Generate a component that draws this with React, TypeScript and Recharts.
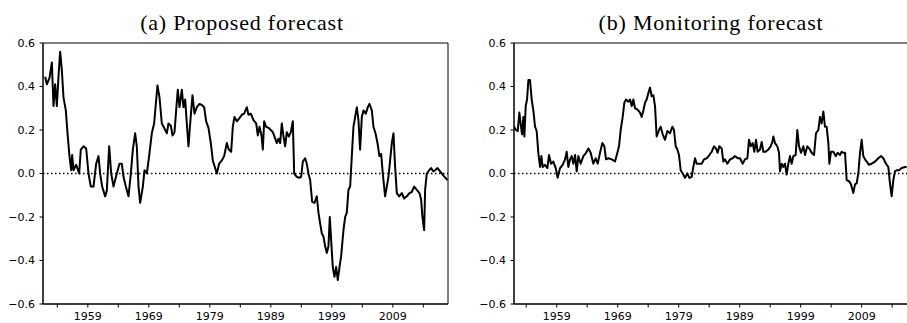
import React from 'react';
import {
  LineChart,
  Line,
  XAxis,
  YAxis,
  ReferenceLine,
  ReferenceArea
} from 'recharts';

// (a) proposed forecast
const yearsA = [
  1952.0, 1952.28, 1952.72, 1953.1, 1953.37, 1953.64, 1953.92, 1954.19, 1954.46, 1954.74,
  1955.01, 1955.39, 1955.67, 1955.99, 1956.27, 1956.43, 1956.65, 1957.09, 1957.58, 1957.85,
  1958.29, 1958.73, 1959.11, 1959.49, 1959.93, 1960.37, 1960.75, 1961.02, 1961.35, 1961.84,
  1962.11, 1962.5, 1962.83, 1963.21, 1963.75, 1964.19, 1964.57, 1964.85, 1965.23, 1965.67,
  1966.05, 1966.38, 1966.76, 1967.03, 1967.31, 1967.58, 1968.02, 1968.29, 1968.67, 1969.05,
  1969.49, 1969.87, 1970.15, 1970.42, 1970.75, 1971.13, 1971.51, 1971.95, 1972.22, 1972.61,
  1972.88, 1973.21, 1973.48, 1973.75, 1974.03, 1974.41, 1974.68, 1974.96, 1975.23, 1975.5,
  1975.78, 1976.16, 1976.49, 1976.87, 1977.31, 1977.69, 1978.07, 1978.4, 1978.78, 1979.16,
  1979.49, 1979.87, 1980.15, 1980.53, 1980.97, 1981.35, 1981.79, 1982.11, 1982.5, 1982.77,
  1983.04, 1983.43, 1983.86, 1984.25, 1984.63, 1985.07, 1985.34, 1985.72, 1986.16, 1986.6,
  1986.87, 1987.14, 1987.47, 1987.69, 1987.91, 1988.23, 1988.62, 1989.0, 1989.33, 1989.6,
  1989.98, 1990.26, 1990.53, 1990.8, 1991.08, 1991.35, 1991.62, 1991.95, 1992.28, 1992.61,
  1992.83, 1993.26, 1993.7, 1993.97, 1994.25, 1994.63, 1994.9, 1995.17, 1995.45, 1995.78,
  1996.16, 1996.54, 1996.81, 1997.09, 1997.36, 1997.63, 1997.91, 1998.18, 1998.45, 1998.67,
  1998.89, 1999.16, 1999.44, 1999.71, 1999.98, 2000.26, 2000.53, 2000.91, 2001.19, 2001.46,
  2001.73, 2002.01, 2002.28, 2002.55, 2002.83, 2003.1, 2003.37, 2003.64, 2003.92, 2004.19,
  2004.57, 2004.9, 2005.17, 2005.56, 2005.83, 2006.16, 2006.49, 2006.81, 2007.09, 2007.36,
  2007.74, 2008.02, 2008.29, 2008.56, 2008.84, 2009.11, 2009.38, 2009.66, 2010.04, 2010.48,
  2010.86, 2011.3, 2011.73, 2012.11, 2012.5, 2012.93, 2013.37, 2013.64, 2013.86, 2014.14,
  2014.3, 2014.57, 2014.96, 2015.28, 2015.67, 2015.94, 2016.32, 2016.76, 2017.31, 2017.96
];
const proposed = [
  0.445, 0.41, 0.44, 0.51, 0.31, 0.41, 0.31, 0.445, 0.56, 0.475,
  0.35, 0.29, 0.185, 0.08, 0.015, 0.085, 0.015, 0.04, 0.0, 0.11,
  0.125, 0.115, 0.0, -0.06, -0.06, 0.045, 0.08, 0.0, -0.06, -0.105,
  -0.08, 0.125, 0.0, -0.06, 0.0, 0.045, 0.045, -0.015, -0.06, -0.105,
  0.0, 0.11, 0.185, 0.125, -0.06, -0.135, -0.06, 0.015, 0.0, 0.08,
  0.185, 0.23, 0.32, 0.405, 0.35, 0.23, 0.21, 0.185, 0.23, 0.22,
  0.175, 0.19, 0.29, 0.385, 0.305, 0.385, 0.305, 0.34, 0.23, 0.125,
  0.23, 0.36, 0.275, 0.305, 0.32, 0.315, 0.305, 0.24, 0.21, 0.14,
  0.06, 0.025, 0.0, 0.045, 0.06, 0.08, 0.14, 0.11, 0.1, 0.215,
  0.26, 0.24, 0.255, 0.27, 0.275, 0.305, 0.27, 0.275, 0.245, 0.23,
  0.175, 0.215, 0.175, 0.11, 0.24, 0.215, 0.21, 0.2, 0.19, 0.17,
  0.14, 0.16, 0.14, 0.23, 0.17, 0.125, 0.19, 0.17, 0.19, 0.24,
  0.0, -0.015, -0.02, -0.015, 0.055, 0.07, 0.045, 0.0, -0.03, -0.13,
  -0.135, -0.105, -0.18, -0.23, -0.275, -0.29, -0.335, -0.365, -0.335, -0.2,
  -0.305, -0.43, -0.475, -0.43, -0.49, -0.43, -0.38, -0.26, -0.2, -0.18,
  -0.075, -0.06, 0.08, 0.215, 0.26, 0.305, 0.245, 0.11, 0.26, 0.29,
  0.275, 0.305, 0.32, 0.29, 0.215, 0.185, 0.14, 0.08, 0.09, 0.0,
  -0.105, -0.06, -0.015, 0.06, 0.14, 0.185, 0.03, -0.09, -0.105, -0.09,
  -0.115, -0.105, -0.09, -0.085, -0.06, -0.075, -0.09, -0.12, -0.2, -0.26,
  -0.075, 0.0, 0.015, 0.025, 0.01, 0.015, 0.025, 0.01, -0.01, -0.03
];

// (b) monitoring forecast
const yearsB = [
  1952.0, 1952.33, 1952.61, 1952.88, 1953.15, 1953.32, 1953.54, 1953.7, 1953.92, 1954.14,
  1954.36, 1954.63, 1954.9, 1955.17, 1955.45, 1955.72, 1955.99, 1956.27, 1956.49, 1956.7,
  1957.09, 1957.47, 1957.74, 1958.07, 1958.45, 1958.84, 1959.16, 1959.55, 1959.98, 1960.37,
  1960.64, 1960.91, 1961.19, 1961.46, 1961.73, 1962.01, 1962.28, 1962.55, 1962.93, 1963.37,
  1963.81, 1964.19, 1964.57, 1965.01, 1965.39, 1965.72, 1966.1, 1966.49, 1966.81, 1967.09,
  1967.47, 1968.02, 1968.56, 1968.95, 1969.22, 1969.49, 1969.82, 1970.09, 1970.37, 1970.75,
  1971.02, 1971.3, 1971.57, 1971.84, 1972.22, 1972.66, 1972.93, 1973.21, 1973.48, 1973.75,
  1974.03, 1974.3, 1974.57, 1974.85, 1975.12, 1975.39, 1975.78, 1976.05, 1976.38, 1976.76,
  1977.14, 1977.58, 1977.96, 1978.23, 1978.51, 1978.78, 1979.05, 1979.33, 1979.66, 1980.04,
  1980.42, 1980.75, 1981.13, 1981.4, 1981.68, 1981.95, 1982.39, 1982.77, 1983.15, 1983.59,
  1984.03, 1984.41, 1984.79, 1985.12, 1985.39, 1985.67, 1986.05, 1986.32, 1986.6, 1986.98,
  1987.42, 1987.85, 1988.23, 1988.67, 1989.05, 1989.49, 1989.87, 1990.26, 1990.53, 1990.8,
  1991.13, 1991.4, 1991.68, 1991.95, 1992.33, 1992.61, 1992.88, 1993.26, 1993.7, 1994.08,
  1994.36, 1994.52, 1994.79, 1995.17, 1995.45, 1995.61, 1995.89, 1996.16, 1996.43, 1996.7,
  1996.98, 1997.25, 1997.52, 1997.8, 1998.18, 1998.45, 1998.73, 1999.05, 1999.44, 1999.71,
  2000.09, 2000.42, 2000.8, 2001.19, 2001.51, 2001.9, 2002.17, 2002.44, 2002.72, 2002.99,
  2003.26, 2003.54, 2003.7, 2003.97, 2004.36, 2004.74, 2005.07, 2005.45, 2005.72, 2005.99,
  2006.27, 2006.54, 2006.92, 2007.25, 2007.63, 2007.91, 2008.18, 2008.45, 2008.73, 2009.0,
  2009.27, 2009.55, 2009.82, 2010.2, 2010.64, 2011.19, 2011.73, 2012.17, 2012.55, 2012.99,
  2013.37, 2013.64, 2013.92, 2014.19, 2014.46, 2014.74, 2015.12, 2015.56, 2016.1, 2016.38
];
const monitoring = [
  0.215, 0.2, 0.195, 0.28, 0.215, 0.18, 0.26, 0.17, 0.31, 0.34,
  0.43, 0.43, 0.34, 0.29, 0.215, 0.195, 0.095, 0.03, 0.08, 0.03,
  0.04, 0.025, 0.085, 0.045, 0.055, 0.025, -0.02, 0.025, 0.04, 0.065,
  0.1, 0.03, 0.065, 0.08, 0.045, 0.085, 0.01, 0.08, 0.045, 0.08,
  0.095, 0.115, 0.095, 0.045, 0.07, 0.045, 0.095, 0.14, 0.125, 0.065,
  0.07, 0.065, 0.055, 0.095, 0.125, 0.2, 0.26, 0.325, 0.34, 0.33,
  0.34, 0.31, 0.34, 0.3, 0.295, 0.28, 0.26, 0.29, 0.325, 0.34,
  0.37, 0.395, 0.355, 0.36, 0.31, 0.17, 0.2, 0.215, 0.18, 0.155,
  0.195, 0.185, 0.215, 0.2, 0.125, 0.11, 0.085, 0.015, 0.0, -0.02,
  0.0, -0.02, -0.015, 0.03, 0.07, 0.045, 0.045, 0.045, 0.065, 0.07,
  0.085, 0.1, 0.125, 0.115, 0.095, 0.125, 0.115, 0.055, 0.065, 0.045,
  0.065, 0.07, 0.08, 0.07, 0.07, 0.045, 0.065, 0.07, 0.155, 0.125,
  0.14, 0.1, 0.155, 0.1, 0.11, 0.145, 0.1, 0.1, 0.11, 0.125,
  0.145, 0.17, 0.14, 0.125, 0.095, 0.01, 0.045, 0.03, 0.045, -0.005,
  0.045, 0.08, 0.045, 0.08, 0.085, 0.2, 0.125, 0.095, 0.125, 0.085,
  0.125, 0.115, 0.095, 0.085, 0.185, 0.2, 0.26, 0.23, 0.285, 0.215,
  0.215, 0.14, 0.045, 0.1, 0.1, 0.08, 0.095, 0.085, 0.1, 0.095,
  0.095, -0.03, -0.035, -0.05, -0.09, -0.05, -0.045, 0.0, 0.095, 0.155,
  0.08, 0.065, 0.055, 0.04, 0.045, 0.055, 0.07, 0.08, 0.07, 0.045,
  0.03, -0.045, -0.105, -0.03, 0.01, 0.015, 0.015, 0.025, 0.03, 0.03
];

const xTicks = [1954, 1959, 1964, 1969, 1974, 1979, 1984, 1989, 1994, 1999, 2004, 2009, 2014];
const yTicks = [-0.6, -0.4, -0.2, 0, 0.2, 0.4, 0.6];

const tickStyle = { fill: '#000', fontSize: 11, fontFamily: 'DejaVu Sans, sans-serif' };
const titleStyle: React.CSSProperties = {
  fontFamily: "'Liberation Serif', 'DejaVu Serif', serif",
  fontSize: 22,
  letterSpacing: 0.8
};

interface PanelProps {
  years: number[];
  values: number[];
  domain: [number, number];
  left: number;
}

const Panel: React.FC<PanelProps> = ({ years, values, domain, left }) => {
  const data = years.map((year, i) => ({ year, value: values[i] }));

  return (
    <div style={{ position: 'absolute', left, top: 0 }}>
      <LineChart
        width={455}
        height={323}
        data={data}
        margin={{ top: 43, right: 7, bottom: 0, left: 0 }}
      >
        <XAxis
          dataKey="year"
          type="number"
          domain={domain}
          allowDataOverflow
          ticks={xTicks}
          interval={0}
          height={19}
          tickSize={3.5}
          tickMargin={5}
          tick={tickStyle}
          tickFormatter={(v: number) => ((v - 1959) % 10 === 0 ? String(v) : '')}
          axisLine={{ stroke: '#000' }}
          tickLine={{ stroke: '#000' }}
        />
        <YAxis
          type="number"
          domain={[-0.6, 0.6]}
          ticks={yTicks}
          interval={0}
          width={43}
          tickSize={3.5}
          tickMargin={4.5}
          tick={tickStyle}
          tickFormatter={(v: number) => v.toFixed(1).replace('-', '\u2212')}
          axisLine={{ stroke: '#000' }}
          tickLine={{ stroke: '#000' }}
        />
        <ReferenceArea
          x1={domain[0]}
          x2={domain[1]}
          y1={-0.6}
          y2={0.6}
          fill="none"
          fillOpacity={0}
          stroke="#000"
          strokeWidth={1}
        />
        <ReferenceLine y={0} stroke="#000" strokeWidth={1.5} strokeDasharray="1.5 2.5" />
        <Line
          type="linear"
          dataKey="value"
          stroke="#000"
          strokeWidth={2}
          strokeLinejoin="round"
          dot={false}
          isAnimationActive={false}
        />
      </LineChart>
    </div>
  );
};

export default function App() {
  return (
    <div
      style={{
        position: 'absolute',
        left: 0,
        top: 0,
        width: 907,
        height: 323,
        overflow: 'hidden',
        background: '#fff'
      }}
    >
      <Panel years={yearsA} values={proposed} domain={[1951.65, 2018.05]} left={0} />
      <Panel years={yearsB} values={monitoring} domain={[1952.0, 2018.4]} left={471} />
      <svg
        width={907}
        height={323}
        style={{ position: 'absolute', left: 0, top: 0, pointerEvents: 'none' }}
      >
        <text x={242} y={30} textAnchor="middle" fill="#000" style={titleStyle}>
          (a) Proposed forecast
        </text>
        <text x={711} y={30} textAnchor="middle" fill="#000" style={titleStyle}>
          (b) Monitoring forecast
        </text>
      </svg>
    </div>
  );
}
